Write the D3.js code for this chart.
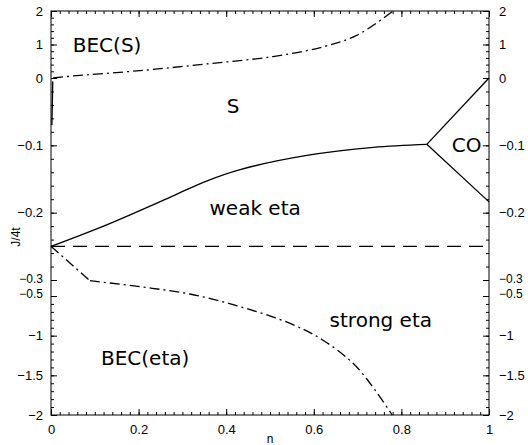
<!DOCTYPE html>
<html>
<head>
<meta charset="utf-8">
<script src="https://cdn.jsdelivr.net/npm/d3@7"></script>
<style>
    html, body { margin: 0; padding: 0; background: #ffffff; }
    svg { display: block; }
    .tick text { font-family: "Liberation Sans", Arial, sans-serif; font-size: 13px; fill: #000; }
    .region { font-family: "DejaVu Sans", sans-serif; font-size: 20px; fill: #000; }
    .axis-title { font-family: "Liberation Sans", Arial, sans-serif; font-size: 12px; fill: #000; }
</style>
</head>
<body>
<div id="chart"></div>
<script>
// ============================================================
// Axis values
// ============================================================
const nTicks = [0, 0.2, 0.4, 0.6, 0.8, 1];
const jTicks = [2, 1, 0, -0.1, -0.2, -0.3, -0.5, -1, -1.5, -2];
// the J axis is broken: 2..0, 0..-0.3 (stretched), then -0.5..-2
const jBreaks = [2, 0, -0.3, -0.5, -2];

// ============================================================
// Phase boundaries, [n, J/4t]
// ============================================================
const becSBoundary = [[0.005, 0], [0.05, 0.06], [0.203, 0.22], [0.356, 0.42],
    [0.507, 0.64], [0.621, 0.93], [0.699, 1.28], [0.781, 2.0]];
const becSStub = [[0.004, -0.005], [0.002, -0.07]];
const sWeakBoundary = [[0, -0.25], [0.127, -0.218], [0.279, -0.175], [0.355, -0.153],
    [0.432, -0.136], [0.584, -0.115], [0.736, -0.103], [0.858, -0.0985]];
const coUpper = [[0.858, -0.0985], [1, 0]];
const coLower = [[0.858, -0.0985], [1, -0.184]];
const etaSplit = [[0, -0.25], [1, -0.25]];
const becEtaKink = [[0, -0.25], [0.089, -0.309]];
const becEtaBoundary = [[0.089, -0.309], [0.203, -0.384], [0.317, -0.475], [0.432, -0.635],
    [0.546, -0.846], [0.621, -1.057], [0.698, -1.395], [0.779, -2]];

// Region names and where they sit
const regionNames = ["BEC(S)", "S", "CO", "weak eta", "strong eta", "BEC(eta)"];
const regionN = [0.128, 0.416, 0.949, 0.466, 0.753, 0.215];
const regionJ = [1.0, -0.0415, -0.0994, -0.193, -0.804, -1.285];

// ============================================================
// Layout
// ============================================================
const W = 528, H = 445;
const margin = { top: 11, right: 39, bottom: 30, left: 51 };
const width = W - margin.left - margin.right;   // 438
const height = H - margin.top - margin.bottom;  // 404

const svg = d3.select("#chart").append("svg")
    .attr("width", W)
    .attr("height", H);

const g = svg.append("g")
    .attr("transform", `translate(${margin.left},${margin.top})`);

const x = d3.scaleLinear().domain([0, 1]).range([0, width]);

// polylinear scale reproduces the broken axis
const y = d3.scaleLinear()
    .domain(jBreaks)
    .range([0, 67, 269, 285, height]);

const fmt = d => (d < 0 ? "\u2212" + Math.abs(d) : String(d));

// minor tick values
const nMinor = d3.range(0, 1.0001, 0.02);
const jMinor = [].concat(
    d3.range(2, -0.0001, -0.2),
    d3.range(0, -0.3001, -0.02),
    d3.range(-0.5, -2.0001, -0.1)
);

// --- axes: ticks point inward on all four sides ---
// bottom
g.append("g").attr("transform", `translate(0,${height})`)
    .call(d3.axisBottom(x).tickValues(nMinor).tickSizeInner(-3).tickSizeOuter(0).tickFormat(""));
g.append("g").attr("transform", `translate(0,${height})`)
    .call(d3.axisBottom(x).tickValues(nTicks).tickSizeInner(-6).tickSizeOuter(0)
        .tickPadding(10).tickFormat(d => String(d)));
// top
g.append("g")
    .call(d3.axisTop(x).tickValues(nMinor).tickSizeInner(-3).tickSizeOuter(0).tickFormat(""));
g.append("g")
    .call(d3.axisTop(x).tickValues(nTicks).tickSizeInner(-6).tickSizeOuter(0).tickFormat(""));
// left
g.append("g")
    .call(d3.axisLeft(y).tickValues(jMinor).tickSizeInner(-3).tickSizeOuter(0).tickFormat(""));
const leftAxis = g.append("g")
    .call(d3.axisLeft(y).tickValues(jTicks).tickSizeInner(-6).tickSizeOuter(0)
        .tickPadding(8).tickFormat(fmt));
// right
g.append("g").attr("transform", `translate(${width},0)`)
    .call(d3.axisRight(y).tickValues(jMinor).tickSizeInner(-3).tickSizeOuter(0).tickFormat(""));
const rightAxis = g.append("g").attr("transform", `translate(${width},0)`)
    .call(d3.axisRight(y).tickValues(jTicks).tickSizeInner(-6).tickSizeOuter(0)
        .tickPadding(10).tickFormat(fmt));

// -0.3 and -0.5 sit almost on top of each other: shrink them and pull apart
[leftAxis, rightAxis].forEach(function (ax) {
    ax.selectAll(".tick text")
        .filter(d => d === -0.3 || d === -0.5)
        .style("font-size", "12px")
        .attr("dy", d => d === -0.3 ? "0.22em" : "0.12em");
});

g.selectAll(".domain").remove();
g.selectAll(".tick line").attr("stroke", "#000").attr("stroke-width", 1);

// frame
g.append("rect")
    .attr("x", 0).attr("y", 0)
    .attr("width", width).attr("height", height)
    .attr("fill", "none")
    .attr("stroke", "#000")
    .attr("stroke-width", 1);

// ============================================================
// Boundaries
// ============================================================
const straight = d3.line().x(d => x(d[0])).y(d => y(d[1]));
const smooth = d3.line().x(d => x(d[0])).y(d => y(d[1])).curve(d3.curveCatmullRom.alpha(0.5));

function drawLine(data, gen, dash) {
    g.append("path")
        .datum(data)
        .attr("d", gen)
        .attr("fill", "none")
        .attr("stroke", "#000")
        .attr("stroke-width", 1.3)
        .attr("stroke-dasharray", dash);
}

const dashDot = "10,4,2,4";
drawLine(becSBoundary, smooth, dashDot);
drawLine(becSStub, straight, null);
drawLine(sWeakBoundary, smooth, null);
drawLine(coUpper, straight, null);
drawLine(coLower, straight, null);
drawLine(etaSplit, straight, "14,8");
drawLine(becEtaKink, straight, dashDot);
drawLine(becEtaBoundary, smooth, dashDot);

// ============================================================
// Labels
// ============================================================
g.selectAll(".region")
    .data(regionNames)
    .enter()
    .append("text")
    .attr("class", "region")
    .attr("x", (d, i) => x(regionN[i]))
    .attr("y", (d, i) => y(regionJ[i]))
    .attr("text-anchor", "middle")
    .attr("dy", "0.36em")
    .text(d => d);

svg.append("text")
    .attr("class", "axis-title")
    .attr("transform", "translate(20,237) rotate(-90)")
    .attr("text-anchor", "middle")
    .text("J/4t");

svg.append("text")
    .attr("class", "axis-title")
    .attr("x", margin.left + width / 2)
    .attr("y", 443)
    .attr("text-anchor", "middle")
    .text("n");
</script>
</body>
</html>
